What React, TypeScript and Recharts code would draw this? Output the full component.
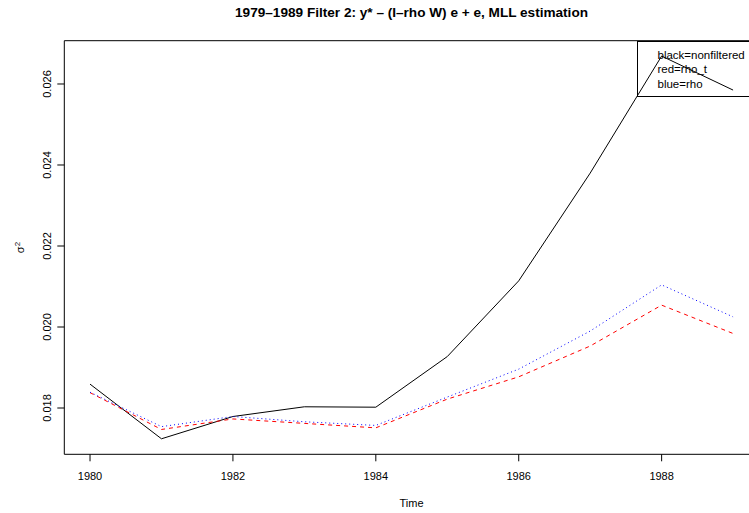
import { LineChart, Line, XAxis, YAxis, ReferenceArea, Legend } from 'recharts';

const years = [1980, 1981, 1982, 1983, 1984, 1985, 1986, 1987, 1988, 1989];
const nonfiltered = [0.01859, 0.01724, 0.01779, 0.01803, 0.01802, 0.01927, 0.02114, 0.0238, 0.02669, 0.02585];
const rhoT = [0.01838, 0.01747, 0.01773, 0.01762, 0.01751, 0.01822, 0.01877, 0.01953, 0.02054, 0.01984];
const rho = [0.01839, 0.01754, 0.01779, 0.01766, 0.01757, 0.01827, 0.01896, 0.0199, 0.02104, 0.02025];

const xTicks = [1980, 1982, 1984, 1986, 1988];
const yTicks = [0.018, 0.02, 0.022, 0.024, 0.026];
const legendLines = ['black=nonfiltered', 'red=rho_t', 'blue=rho'];

const X_DOMAIN: [number, number] = [1979.64, 1989.36];
const Y_DOMAIN: [number, number] = [0.016857, 0.027069];

const FONT = '"Liberation Sans", Arial, Helvetica, sans-serif';

const data = years.map((year, i) => ({
  year,
  nonfiltered: nonfiltered[i],
  rhoT: rhoT[i],
  rho: rho[i],
}));

const YTick = (props: any) => {
  const { x, y, payload } = props;
  return (
    <text
      x={x}
      y={y}
      transform={`rotate(-90 ${x} ${y})`}
      textAnchor="middle"
      fontSize={11}
      fontFamily={FONT}
      fill="#000"
    >
      {payload.value.toFixed(3)}
    </text>
  );
};

const YTitle = (props: any) => {
  const vb = props.viewBox;
  const x = vb.x + vb.width - 40;
  const y = vb.y + vb.height / 2;
  return (
    <text x={x} y={y} transform={`rotate(-90 ${x} ${y})`} textAnchor="middle" fontFamily={FONT} fontSize={11} fill="#000">
      <tspan>σ</tspan>
      <tspan dy={-4} fontSize={8}>2</tspan>
    </text>
  );
};

const XTitle = (props: any) => {
  const vb = props.viewBox;
  return (
    <text x={vb.x + vb.width / 2} y={vb.y + 53} textAnchor="middle" fontFamily={FONT} fontSize={11} fill="#000">
      Time
    </text>
  );
};

const LegendBox = () => (
  <div
    style={{
      boxSizing: 'border-box',
      border: '1px solid #000',
      width: 130,
      height: 56.5,
      paddingLeft: 20,
      paddingTop: 6,
      fontFamily: FONT,
      fontSize: 11.5,
      lineHeight: '14.5px',
      color: '#000',
      textAlign: 'left',
    }}
  >
    {legendLines.map((t) => (
      <div key={t}>{t}</div>
    ))}
  </div>
);

export default function App() {
  return (
    <div
      style={{
        position: 'absolute',
        left: 0,
        top: 0,
        width: 749,
        height: 513,
        overflow: 'hidden',
        background: '#fff',
      }}
    >
      <div
        style={{
          position: 'absolute',
          left: 64.3,
          width: 694.5,
          top: 5,
          textAlign: 'center',
          fontFamily: FONT,
          fontWeight: 'bold',
          fontSize: 13.6,
          color: '#000',
          whiteSpace: 'nowrap',
        }}
      >
        1979–1989 Filter 2: y* – (I–rho W) e + e, MLL estimation
      </div>
      <LineChart
        width={770}
        height={513}
        data={data}
        margin={{ top: 40.7, right: 11.2, bottom: 0, left: 0 }}
      >
        <XAxis
          dataKey="year"
          type="number"
          domain={X_DOMAIN}
          ticks={xTicks}
          allowDataOverflow
          axisLine={false}
          tickLine={{ stroke: '#000' }}
          tickSize={7}
          tickMargin={10.5}
          height={58.7}
          tick={{ fill: '#000', fontSize: 11, fontFamily: FONT }}
          label={(p: any) => <XTitle {...p} />}
        />
        <YAxis
          type="number"
          domain={Y_DOMAIN}
          ticks={yTicks}
          allowDataOverflow
          axisLine={false}
          tickLine={{ stroke: '#000' }}
          tickSize={7}
          tickMargin={6.3}
          width={64.3}
          tick={<YTick />}
          label={(p: any) => <YTitle {...p} />}
        />
        <ReferenceArea
          x1={X_DOMAIN[0]}
          x2={X_DOMAIN[1]}
          y1={Y_DOMAIN[0]}
          y2={Y_DOMAIN[1]}
          fill="none"
          fillOpacity={0}
          stroke="#000"
          strokeWidth={1}
          ifOverflow="visible"
        />
        <Line
          dataKey="nonfiltered"
          type="linear"
          stroke="#000"
          strokeWidth={1}
          dot={false}
          isAnimationActive={false}
        />
        <Line
          dataKey="rhoT"
          type="linear"
          stroke="#ff0000"
          strokeWidth={1}
          strokeDasharray="4 4"
          dot={false}
          isAnimationActive={false}
        />
        <Line
          dataKey="rho"
          type="linear"
          stroke="#0000ff"
          strokeWidth={1}
          strokeDasharray="1 3"
          dot={false}
          isAnimationActive={false}
        />
        <Legend
          layout="horizontal"
          verticalAlign="middle"
          align="center"
          content={() => <LegendBox />}
          wrapperStyle={{ left: 636.5, top: 40.5, width: 130, height: 56.5 }}
        />
      </LineChart>
    </div>
  );
}
